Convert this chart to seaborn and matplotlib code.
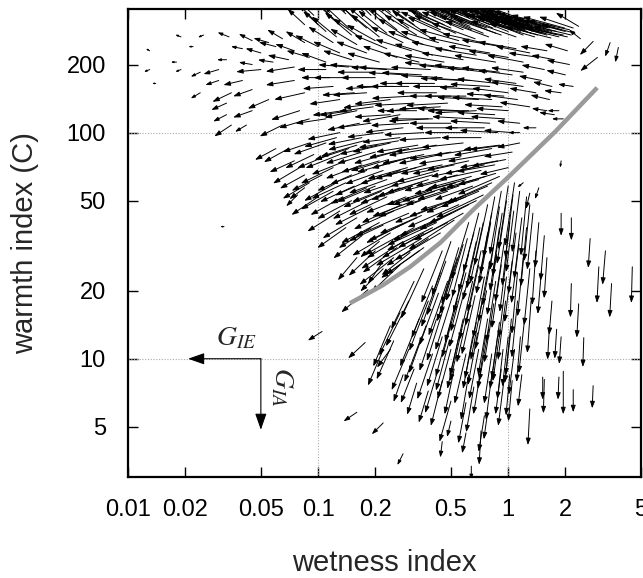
"""Wetness / warmth index gradient field with the G_IE and G_IA key arrows."""

import math

import seaborn as sns
from matplotlib import pyplot as plt
from matplotlib.patches import FancyArrowPatch

plt.switch_backend("Agg")

X_TICKS = [0.01, 0.02, 0.05, 0.1, 0.2, 0.5, 1, 2, 5]
X_LABELS = ["0.01", "0.02", "0.05", "0.1", "0.2", "0.5", "1", "2", "5"]
Y_TICKS = [5, 10, 20, 50, 100, 200]
Y_LABELS = ["5", "10", "20", "50", "100", "200"]
GRID_X = [0.1, 1]
GRID_Y = [10, 100]

# gray boundary curve
CURVE_WET = [0.147, 0.18, 0.22, 0.305, 0.44, 0.655, 1.03, 1.77, 2.94]
CURVE_WARM = [17.6, 19.3, 21.2, 25.5, 32.6, 45.6, 65, 101, 158]

# arrows: (wetness, warmth, g_ie, g_ia), gradients in decades
# g_ie > 0 points to lower wetness, g_ia > 0 points to lower warmth
TOP_BAND = [
    (0.085, 300, 0.09, -0.07), (0.095, 330, 0.10, -0.08), (0.11, 280, 0.12, -0.09),
    (0.12, 320, 0.12, -0.10), (0.13, 300, 0.13, -0.10), (0.14, 335, 0.12, -0.09),
    (0.15, 270, 0.14, -0.10), (0.16, 310, 0.13, -0.11), (0.18, 290, 0.14, -0.10),
    (0.19, 330, 0.12, -0.10), (0.21, 265, 0.15, -0.10), (0.22, 305, 0.14, -0.11),
    (0.24, 340, 0.12, -0.09), (0.26, 285, 0.15, -0.10), (0.28, 320, 0.15, -0.10),
    (0.30, 260, 0.16, -0.09), (0.32, 300, 0.17, -0.10), (0.35, 335, 0.16, -0.09),
    (0.37, 275, 0.18, -0.10), (0.10, 300, 0.10, -0.09), (0.115, 340, 0.10, -0.08),
    (0.125, 265, 0.13, -0.09), (0.145, 290, 0.13, -0.10), (0.17, 260, 0.15, -0.09),
    (0.175, 340, 0.12, -0.09), (0.20, 285, 0.14, -0.10), (0.23, 275, 0.15, -0.10),
    (0.25, 310, 0.15, -0.10), (0.27, 340, 0.14, -0.09), (0.30, 290, 0.16, -0.10),
    (0.33, 270, 0.17, -0.09), (0.38, 310, 0.18, -0.09), (0.40, 260, 0.19, -0.09),
    (0.42, 300, 0.20, -0.09), (0.45, 330, 0.19, -0.08), (0.48, 270, 0.21, -0.08),
    (0.50, 290, 0.22, -0.08), (0.52, 310, 0.21, -0.08), (0.55, 345, 0.18, -0.07),
    (0.58, 285, 0.22, -0.08), (0.60, 305, 0.22, -0.08), (0.62, 325, 0.21, -0.08),
    (0.66, 300, 0.22, -0.08), (0.68, 320, 0.22, -0.08), (0.70, 340, 0.20, -0.07),
    (0.72, 295, 0.23, -0.08), (0.74, 275, 0.23, -0.08), (0.78, 315, 0.22, -0.08),
    (0.80, 300, 0.23, -0.08), (0.83, 290, 0.23, -0.08), (0.86, 275, 0.24, -0.08),
    (0.88, 330, 0.21, -0.07), (0.90, 315, 0.22, -0.07), (0.93, 305, 0.23, -0.08),
    (0.97, 290, 0.24, -0.08), (1.00, 280, 0.24, -0.08), (1.05, 320, 0.22, -0.07),
    (1.08, 300, 0.23, -0.07), (1.12, 295, 0.24, -0.07), (1.16, 280, 0.24, -0.07),
    (1.20, 270, 0.24, -0.08), (1.24, 295, 0.23, -0.07), (1.28, 310, 0.23, -0.07),
    (1.32, 275, 0.24, -0.07), (1.36, 285, 0.24, -0.07), (1.40, 290, 0.24, -0.06),
    (1.45, 300, 0.24, -0.06), (1.50, 285, 0.25, -0.06), (1.55, 275, 0.25, -0.06),
    (1.60, 270, 0.25, -0.06), (1.65, 290, 0.24, -0.05), (1.70, 280, 0.25, -0.05),
    (1.80, 280, 0.25, -0.05), (1.85, 265, 0.24, -0.05), (1.95, 270, 0.24, -0.04),
    (2.00, 280, 0.23, -0.05), (2.10, 285, 0.22, -0.04), (2.25, 275, 0.18, -0.04),
    (2.35, 295, 0.12, -0.06), (2.40, 260, 0.06, -0.04), (0.44, 285, 0.21, -0.08),
    (0.47, 315, 0.20, -0.08), (0.53, 275, 0.22, -0.08), (0.57, 330, 0.20, -0.07),
    (0.64, 285, 0.22, -0.08), (0.67, 260, 0.23, -0.07), (0.76, 330, 0.21, -0.07),
    (0.79, 265, 0.23, -0.07), (0.84, 310, 0.22, -0.08), (0.92, 270, 0.24, -0.07),
    (0.95, 325, 0.21, -0.07), (1.02, 300, 0.23, -0.07), (1.10, 265, 0.24, -0.07),
    (1.14, 315, 0.22, -0.07), (1.22, 285, 0.24, -0.07), (1.30, 300, 0.23, -0.07),
    (1.38, 265, 0.24, -0.06), (1.48, 275, 0.25, -0.06), (1.58, 290, 0.24, -0.05),
    (1.68, 262, 0.24, -0.05), (1.75, 295, 0.23, -0.05), (1.90, 285, 0.24, -0.05),
    (2.05, 265, 0.22, -0.04), (2.20, 290, 0.18, -0.05),
    (0.46, 300, 0.21, -0.08), (0.54, 320, 0.20, -0.08), (0.63, 295, 0.22, -0.08),
    (0.71, 310, 0.22, -0.08), (0.77, 290, 0.23, -0.08), (0.85, 300, 0.23, -0.08),
    (0.99, 310, 0.22, -0.07), (1.06, 285, 0.24, -0.07), (1.18, 300, 0.23, -0.07),
    (1.26, 280, 0.24, -0.07), (1.34, 295, 0.24, -0.06), (1.43, 270, 0.25, -0.06),
    (1.53, 295, 0.24, -0.06), (1.63, 280, 0.25, -0.05), (1.78, 272, 0.24, -0.05),
    (1.98, 290, 0.22, -0.05), (2.15, 270, 0.20, -0.04),
]
TOP_RIGHT = [
    (2.80, 253, 0.07, 0.06), (2.95, 215, 0.09, 0.06),
    (3.44, 250, 0.026, 0.062), (3.80, 238, 0.016, 0.066),
]
UPPER_DRY = [
    (0.013, 230, 0.02, -0.01), (0.018, 205, 0.03, 0.0), (0.013, 190, 0.03, 0.01),
    (0.019, 190, 0.03, 0.01), (0.014, 165, 0.02, 0.0), (0.022, 240, 0.025, 0.0),
    (0.019, 265, 0.03, -0.01), (0.025, 270, 0.03, 0.01), (0.034, 265, 0.06, -0.02),
    (0.045, 255, 0.07, -0.03), (0.055, 250, 0.08, -0.02), (0.065, 260, 0.08, -0.04),
    (0.040, 235, 0.06, -0.01), (0.050, 225, 0.08, -0.02), (0.060, 240, 0.09, -0.02),
    (0.075, 230, 0.10, -0.03), (0.085, 250, 0.10, -0.05), (0.070, 210, 0.11, -0.02),
    (0.090, 215, 0.12, -0.03), (0.100, 240, 0.12, -0.05), (0.033, 210, 0.05, 0.0),
    (0.045, 200, 0.07, -0.01), (0.058, 205, 0.08, -0.01),
    (0.024, 185, 0.05, 0.02), (0.030, 190, 0.08, 0.02), (0.030, 170, 0.07, 0.02),
    (0.024, 150, 0.05, 0.025), (0.035, 150, 0.10, 0.04), (0.033, 135, 0.08, 0.03),
    (0.040, 170, 0.10, 0.02), (0.050, 190, 0.13, 0.01), (0.045, 155, 0.10, 0.03),
    (0.055, 140, 0.11, 0.04), (0.033, 120, 0.07, 0.03), (0.045, 125, 0.10, 0.03),
    (0.042, 108, 0.06, 0.03), (0.035, 108, 0.09, 0.05), (0.075, 195, 0.15, 0.02),
    (0.075, 170, 0.15, 0.02), (0.085, 150, 0.16, 0.03), (0.080, 125, 0.15, 0.04),
    (0.090, 115, 0.16, 0.04), (0.065, 108, 0.12, 0.05),
    (0.060, 85, 0.11, 0.05), (0.070, 85, 0.13, 0.06), (0.075, 75, 0.13, 0.05),
    (0.080, 70, 0.14, 0.07), (0.085, 65, 0.13, 0.06), (0.090, 90, 0.14, 0.04),
    (0.090, 60, 0.14, 0.07), (0.095, 80, 0.15, 0.06), (0.100, 52, 0.14, 0.08),
    (0.078, 53, 0.06, 0.05), (0.085, 57, 0.08, 0.05), (0.032, 38.4, 0.02, 0.0),
]
UPPER_MID = [
    (0.11, 205, 0.13, -0.04), (0.12, 250, 0.13, -0.07), (0.13, 225, 0.14, -0.05),
    (0.15, 210, 0.15, -0.04), (0.16, 245, 0.14, -0.07), (0.18, 225, 0.16, -0.05),
    (0.20, 255, 0.15, -0.07), (0.21, 205, 0.17, -0.04), (0.23, 235, 0.17, -0.06),
    (0.26, 215, 0.18, -0.05), (0.28, 250, 0.17, -0.07), (0.31, 230, 0.19, -0.05),
    (0.34, 205, 0.19, -0.04), (0.36, 245, 0.19, -0.06), (0.40, 220, 0.20, -0.05),
    (0.43, 250, 0.20, -0.05), (0.46, 205, 0.21, -0.03), (0.50, 230, 0.21, -0.04),
    (0.55, 255, 0.21, -0.05), (0.58, 210, 0.22, -0.03), (0.63, 240, 0.22, -0.04),
    (0.68, 220, 0.22, -0.03), (0.73, 250, 0.21, -0.04), (0.80, 225, 0.22, -0.03),
    (0.86, 205, 0.22, -0.03), (0.92, 240, 0.21, -0.03), (1.00, 215, 0.21, -0.03),
    (1.10, 235, 0.20, -0.03), (1.20, 205, 0.19, -0.03), (1.30, 225, 0.18, -0.03),
    (1.45, 215, 0.16, -0.02), (1.60, 230, 0.14, -0.02), (1.75, 210, 0.12, -0.02),
    (2.10, 200, 0.12, -0.02), (2.00, 180, 0.10, -0.02), (1.90, 150, 0.09, -0.01),
    (1.85, 125, 0.06, 0.0), (1.55, 190, 0.12, -0.02), (1.70, 160, 0.10, -0.02),
    (2.05, 230, 0.12, -0.03), (1.95, 115, 0.06, 0.0), (2.20, 160, 0.08, -0.01),
    (1.60, 125, 0.08, -0.01),
    (0.11, 190, 0.15, 0.0), (0.12, 160, 0.16, 0.01), (0.13, 140, 0.16, 0.02),
    (0.14, 175, 0.17, 0.0), (0.16, 125, 0.17, 0.03), (0.17, 195, 0.17, -0.01),
    (0.18, 150, 0.18, 0.01), (0.20, 175, 0.18, 0.0), (0.21, 135, 0.19, 0.02),
    (0.23, 190, 0.19, -0.01), (0.25, 160, 0.20, 0.0), (0.27, 120, 0.20, 0.03),
    (0.29, 180, 0.20, -0.01), (0.31, 145, 0.21, 0.01), (0.34, 165, 0.21, 0.0),
    (0.37, 130, 0.21, 0.02), (0.39, 190, 0.21, -0.01),
    (0.42, 150, 0.21, 0.0), (0.45, 175, 0.22, -0.01), (0.48, 135, 0.22, 0.01),
    (0.52, 160, 0.22, 0.0), (0.56, 190, 0.22, -0.02), (0.60, 145, 0.22, 0.0),
    (0.64, 170, 0.22, -0.01), (0.68, 125, 0.22, 0.01), (0.72, 155, 0.22, -0.01),
    (0.77, 185, 0.21, -0.02), (0.82, 140, 0.21, -0.01), (0.87, 165, 0.21, -0.02),
    (0.93, 130, 0.20, -0.01), (1.00, 150, 0.19, -0.02), (1.05, 180, 0.18, -0.02),
    (1.12, 140, 0.18, -0.02), (1.20, 160, 0.17, -0.02), (1.30, 130, 0.16, -0.02),
    (1.40, 150, 0.14, -0.02), (1.50, 170, 0.12, -0.02), (1.65, 140, 0.10, -0.02),
    (1.75, 120, 0.08, -0.01),
    (0.115, 175, 0.15, 0.0), (0.135, 125, 0.16, 0.02), (0.145, 195, 0.16, -0.01),
    (0.155, 150, 0.17, 0.01), (0.165, 110, 0.17, 0.03), (0.19, 185, 0.18, 0.0),
    (0.195, 130, 0.18, 0.02), (0.215, 160, 0.19, 0.01), (0.24, 140, 0.19, 0.02),
    (0.26, 190, 0.20, -0.01), (0.28, 105, 0.20, 0.02), (0.30, 160, 0.20, 0.0),
    (0.32, 135, 0.21, 0.01), (0.35, 180, 0.21, -0.01), (0.38, 115, 0.21, 0.01),
    (0.41, 165, 0.21, 0.0), (0.44, 130, 0.22, 0.01), (0.47, 195, 0.22, -0.02),
    (0.50, 145, 0.22, 0.0), (0.54, 105, 0.22, 0.0), (0.57, 170, 0.22, -0.01),
    (0.62, 125, 0.22, 0.0), (0.66, 190, 0.21, -0.02), (0.70, 140, 0.22, -0.01),
    (0.75, 105, 0.21, 0.0), (0.80, 160, 0.21, -0.01), (0.85, 120, 0.20, -0.01),
    (0.90, 185, 0.20, -0.02), (0.95, 145, 0.20, -0.01), (1.00, 125, 0.17, -0.01),
    (1.10, 165, 0.17, -0.02), (1.20, 185, 0.17, -0.02),
]
MIDDLE = [
    (0.11, 115, 0.16, 0.02), (0.13, 100, 0.17, 0.03), (0.15, 125, 0.17, 0.02),
    (0.17, 95, 0.18, 0.03), (0.19, 110, 0.18, 0.02), (0.22, 100, 0.19, 0.02),
    (0.24, 120, 0.19, 0.01), (0.27, 95, 0.20, 0.02), (0.30, 110, 0.20, 0.01),
    (0.33, 125, 0.21, 0.0), (0.36, 100, 0.21, 0.01), (0.40, 115, 0.22, 0.0),
    (0.44, 95, 0.22, 0.01), (0.50, 110, 0.22, 0.0), (0.55, 125, 0.22, -0.01),
    (0.60, 100, 0.22, 0.0), (0.66, 115, 0.22, -0.01), (0.72, 95, 0.21, 0.0),
    (0.80, 110, 0.21, -0.01), (0.88, 100, 0.20, -0.01), (0.96, 115, 0.18, -0.01),
    (1.05, 100, 0.15, -0.01), (1.15, 100, 0.06, 0.0), (1.40, 105, 0.07, 0.0),
    (1.15, 110, 0.12, -0.01),
    (0.11, 90, 0.17, 0.05), (0.12, 70, 0.17, 0.07), (0.13, 80, 0.18, 0.06),
    (0.14, 60, 0.18, 0.07), (0.16, 88, 0.19, 0.05), (0.17, 72, 0.19, 0.06),
    (0.19, 62, 0.19, 0.07), (0.20, 82, 0.20, 0.05), (0.22, 68, 0.20, 0.06),
    (0.24, 90, 0.20, 0.04), (0.26, 75, 0.21, 0.05), (0.28, 62, 0.21, 0.06),
    (0.30, 85, 0.21, 0.04), (0.33, 70, 0.22, 0.05), (0.36, 80, 0.22, 0.04),
    (0.38, 62, 0.22, 0.06), (0.42, 88, 0.22, 0.03), (0.45, 72, 0.22, 0.04),
    (0.50, 82, 0.22, 0.03), (0.54, 65, 0.22, 0.05), (0.58, 90, 0.22, 0.02),
    (0.62, 75, 0.22, 0.04), (0.68, 85, 0.22, 0.03), (0.72, 68, 0.22, 0.04),
    (0.78, 80, 0.21, 0.03), (0.85, 72, 0.20, 0.03), (0.90, 88, 0.19, 0.02),
    (0.97, 76, 0.18, 0.03), (1.05, 82, 0.15, 0.02), (1.15, 90, 0.12, 0.02),
    (0.105, 65, 0.16, 0.07), (0.115, 80, 0.17, 0.06), (0.125, 60, 0.17, 0.08),
    (0.14, 75, 0.18, 0.06), (0.15, 65, 0.18, 0.07), (0.17, 82, 0.19, 0.05),
    (0.18, 68, 0.19, 0.06), (0.20, 58, 0.20, 0.07), (0.21, 75, 0.20, 0.05),
    (0.23, 62, 0.20, 0.06), (0.25, 82, 0.21, 0.05), (0.27, 68, 0.21, 0.06),
    (0.29, 52, 0.21, 0.07), (0.31, 78, 0.21, 0.05), (0.34, 60, 0.22, 0.06),
    (0.37, 72, 0.22, 0.05), (0.40, 65, 0.22, 0.05), (0.44, 80, 0.22, 0.04),
    (0.47, 62, 0.22, 0.05), (0.52, 72, 0.22, 0.04), (0.56, 78, 0.22, 0.03),
    (0.60, 62, 0.22, 0.05), (0.65, 70, 0.22, 0.04), (0.75, 72, 0.21, 0.04),
    (0.82, 85, 0.20, 0.03), (0.88, 75, 0.20, 0.03), (0.95, 88, 0.18, 0.02),
    (1.00, 70, 0.15, 0.03),
    (0.125, 95, 0.17, 0.04), (0.135, 52, 0.17, 0.08), (0.145, 85, 0.18, 0.05),
    (0.155, 58, 0.18, 0.07), (0.175, 92, 0.19, 0.04), (0.185, 50, 0.19, 0.08),
    (0.205, 88, 0.20, 0.04), (0.215, 55, 0.20, 0.07), (0.235, 76, 0.20, 0.05),
    (0.245, 58, 0.21, 0.07), (0.265, 92, 0.21, 0.03), (0.275, 48, 0.21, 0.08),
    (0.295, 70, 0.21, 0.05), (0.315, 58, 0.22, 0.06), (0.335, 88, 0.22, 0.03),
    (0.345, 50, 0.22, 0.07), (0.39, 85, 0.22, 0.03), (0.41, 55, 0.22, 0.06),
    (0.43, 68, 0.22, 0.05), (0.48, 55, 0.22, 0.06), (0.53, 60, 0.22, 0.05),
    (0.57, 52, 0.22, 0.06), (0.64, 64, 0.22, 0.05), (0.70, 62, 0.21, 0.05),
    (0.76, 64, 0.21, 0.05), (0.86, 66, 0.20, 0.05),
]
ABOVE_CURVE = [
    (0.12, 55, 0.17, 0.08), (0.13, 45, 0.17, 0.09), (0.15, 50, 0.18, 0.08),
    (0.16, 42, 0.18, 0.09), (0.18, 57, 0.19, 0.07), (0.19, 47, 0.19, 0.08),
    (0.21, 40, 0.20, 0.09), (0.23, 52, 0.20, 0.08), (0.25, 45, 0.21, 0.08),
    (0.27, 57, 0.21, 0.07), (0.29, 40, 0.21, 0.09), (0.32, 50, 0.22, 0.07),
    (0.35, 43, 0.22, 0.08), (0.38, 55, 0.22, 0.06), (0.42, 47, 0.22, 0.07),
    (0.46, 57, 0.22, 0.06), (0.50, 50, 0.22, 0.07), (0.55, 58, 0.22, 0.06),
    (0.60, 52, 0.21, 0.07), (0.65, 58, 0.20, 0.06), (0.70, 55, 0.20, 0.07),
    (0.78, 58, 0.20, 0.07),
    (0.30, 44, 0.28, 0.10), (0.32, 38, 0.26, 0.12), (0.28, 33, 0.22, 0.12),
    (0.35, 34, 0.24, 0.12), (0.25, 28, 0.18, 0.12), (0.40, 38, 0.24, 0.10),
    (0.36, 31, 0.20, 0.12), (0.22, 25, 0.12, 0.10), (0.183, 20.2, 0.14, 0.10),
    (0.305, 29.5, 0.15, 0.10), (0.45, 42, 0.26, 0.10), (0.50, 44, 0.27, 0.10),
    (0.55, 48, 0.27, 0.10), (0.36, 36, 0.22, 0.11), (0.42, 40, 0.26, 0.10),
    (0.33, 42, 0.25, 0.10), (0.22, 39, 0.18, 0.07), (0.21, 33, 0.10, 0.07),
    (0.22, 27, 0.08, 0.10),
    (0.14, 38, 0.15, 0.09), (0.17, 35, 0.15, 0.10), (0.20, 30, 0.14, 0.11),
    (0.19, 38, 0.17, 0.09), (0.24, 36, 0.20, 0.10), (0.26, 31, 0.18, 0.11),
    (0.30, 36, 0.22, 0.11), (0.34, 30, 0.20, 0.12), (0.38, 34, 0.22, 0.12),
    (0.44, 36, 0.24, 0.12), (0.48, 40, 0.26, 0.11), (0.52, 41, 0.24, 0.13),
    (0.58, 44, 0.26, 0.12), (0.62, 48, 0.26, 0.11), (0.68, 50, 0.25, 0.10),
    (0.74, 53, 0.25, 0.10), (0.82, 60, 0.24, 0.09), (0.90, 64, 0.22, 0.08),
    (0.27, 26, 0.15, 0.12), (0.16, 28, 0.10, 0.10),
]
BELOW_CURVE = [
    (0.62, 40, 0.09, 0.25), (0.70, 44, 0.08, 0.26), (0.78, 48, 0.07, 0.27),
    (0.85, 52, 0.06, 0.27), (0.92, 55, 0.06, 0.28), (1.00, 58, 0.05, 0.28),
    (1.08, 60, 0.05, 0.28), (0.66, 36, 0.08, 0.26), (0.74, 40, 0.07, 0.27),
    (0.82, 44, 0.06, 0.27), (0.90, 47, 0.05, 0.28), (0.98, 50, 0.05, 0.28),
    (1.06, 53, 0.04, 0.28), (1.15, 55, 0.04, 0.27), (1.25, 52, 0.03, 0.26),
    (0.45, 30, 0.11, 0.23), (0.50, 33, 0.10, 0.24), (0.54, 28, 0.09, 0.25),
    (0.58, 32, 0.09, 0.25), (0.62, 29, 0.08, 0.26), (0.68, 33, 0.07, 0.26),
    (0.72, 30, 0.07, 0.27), (0.78, 36, 0.06, 0.27), (0.84, 32, 0.06, 0.27),
    (0.90, 38, 0.05, 0.28), (0.96, 34, 0.05, 0.28), (1.02, 40, 0.04, 0.28),
    (1.10, 36, 0.04, 0.27), (1.18, 42, 0.04, 0.27), (1.25, 38, 0.03, 0.26),
    (1.35, 44, 0.03, 0.25), (1.30, 48, 0.03, 0.25),
    (0.32, 22, 0.12, 0.21), (0.36, 25, 0.12, 0.22), (0.40, 21, 0.11, 0.23),
    (0.44, 24, 0.10, 0.24), (0.48, 22, 0.10, 0.24), (0.52, 26, 0.09, 0.25),
    (0.56, 21, 0.08, 0.25), (0.60, 24, 0.08, 0.26), (0.65, 22, 0.07, 0.26),
    (0.70, 26, 0.07, 0.27), (0.75, 23, 0.06, 0.27), (0.80, 27, 0.06, 0.27),
    (0.86, 22, 0.05, 0.27), (0.92, 26, 0.05, 0.28), (0.98, 23, 0.04, 0.27),
    (1.05, 27, 0.04, 0.27), (1.12, 24, 0.03, 0.27), (1.20, 28, 0.03, 0.26),
    (1.30, 25, 0.03, 0.25), (1.40, 30, 0.02, 0.24),
    (0.27, 16, 0.11, 0.19), (0.30, 18, 0.12, 0.20), (0.34, 15, 0.10, 0.21),
    (0.38, 18, 0.10, 0.22), (0.42, 15, 0.09, 0.23), (0.46, 17, 0.09, 0.24),
    (0.50, 14.5, 0.08, 0.24), (0.54, 18, 0.08, 0.25), (0.58, 15, 0.07, 0.25),
    (0.63, 17.5, 0.07, 0.26), (0.68, 14.5, 0.06, 0.25), (0.73, 18, 0.06, 0.26),
    (0.78, 15, 0.05, 0.25), (0.84, 17.5, 0.05, 0.26), (0.90, 14.5, 0.04, 0.25),
    (0.97, 18, 0.04, 0.26), (1.04, 15, 0.03, 0.25), (1.12, 18, 0.03, 0.25),
    (1.22, 15, 0.03, 0.24), (1.32, 18, 0.02, 0.23),
    (0.25, 12, 0.09, 0.17), (0.30, 11, 0.09, 0.18), (0.35, 12.5, 0.09, 0.20),
    (0.40, 10.5, 0.08, 0.20), (0.45, 12.5, 0.08, 0.22), (0.50, 11, 0.07, 0.22),
    (0.55, 12.5, 0.06, 0.23), (0.60, 10.5, 0.06, 0.22), (0.65, 12.5, 0.05, 0.23),
    (0.70, 11, 0.05, 0.22), (0.76, 12.5, 0.04, 0.23), (0.82, 10.5, 0.04, 0.22),
    (0.88, 12.5, 0.04, 0.23), (0.94, 11, 0.03, 0.22), (1.00, 12.5, 0.03, 0.22),
    (1.08, 11, 0.03, 0.20), (1.16, 12.5, 0.02, 0.20),
    (0.32, 9, 0.07, 0.15), (0.42, 8.5, 0.06, 0.17), (0.52, 9, 0.05, 0.20),
    (0.62, 8.5, 0.04, 0.20), (0.72, 9, 0.04, 0.20), (0.82, 8.5, 0.03, 0.20),
    (0.92, 9, 0.03, 0.20), (1.02, 8.5, 0.02, 0.18),
    (0.24, 14, 0.09, 0.18), (0.22, 11, 0.08, 0.16),
    (0.47, 27, 0.10, 0.24), (0.51, 19, 0.09, 0.24), (0.55, 31, 0.09, 0.25),
    (0.59, 20, 0.08, 0.25), (0.61, 34, 0.08, 0.26), (0.67, 19, 0.07, 0.26),
    (0.71, 38, 0.07, 0.27), (0.77, 20, 0.06, 0.26), (0.81, 40, 0.06, 0.27),
    (0.87, 29, 0.05, 0.27), (0.93, 44, 0.05, 0.28), (0.99, 30, 0.04, 0.27),
    (1.07, 45, 0.04, 0.27), (1.14, 32, 0.04, 0.26), (0.49, 12, 0.07, 0.22),
    (0.57, 13.5, 0.06, 0.23), (0.69, 13, 0.05, 0.23), (0.79, 13.5, 0.05, 0.23),
    (0.91, 13.5, 0.04, 0.23), (1.03, 13, 0.03, 0.22), (0.43, 19.5, 0.10, 0.23),
    (0.37, 14, 0.09, 0.21),
]
COLD_SPARSE = [
    (0.28, 8.5, 0.05, 0.12), (0.33, 7.8, 0.05, 0.14), (0.38, 7.2, 0.05, 0.14),
    (0.45, 8.0, 0.06, 0.20), (0.50, 6.5, 0.06, 0.18), (0.60, 6.4, 0.04, 0.18),
    (0.66, 7.5, 0.04, 0.20), (0.75, 5.6, 0.03, 0.16), (0.72, 4.8, 0.01, 0.15),
    (0.78, 5.8, 0.02, 0.12), (0.95, 8.0, 0.03, 0.20), (1.05, 8.0, 0.02, 0.18),
    (1.18, 8.5, 0.02, 0.14), (1.30, 6.0, 0.01, 0.16), (1.52, 8.3, 0.0, 0.10),
    (1.55, 8.1, 0.005, 0.15), (1.85, 8.3, 0.005, 0.10), (1.95, 8.8, 0.0, 0.19),
    (2.20, 7.3, 0.0, 0.10), (2.80, 7.6, 0.005, 0.10), (0.45, 4.3, 0.01, 0.07),
    (0.28, 3.8, 0.03, 0.05), (0.50, 5.3, 0.02, 0.07), (0.60, 4.7, 0.02, 0.09),
    (0.64, 3.35, 0.0, 0.06),
    (0.16, 5.8, 0.07, 0.04), (0.22, 5.2, 0.06, 0.05), (0.105, 13.2, 0.075, 0.04),
    (0.177, 11.8, 0.09, 0.07), (0.24, 11, 0.07, 0.08),
]
WET_SPARSE = [
    (1.90, 44, 0.0, 0.10), (2.15, 42, 0.0, 0.10), (2.70, 34, 0.01, 0.13),
    (3.00, 25.5, 0.01, 0.16), (3.25, 30, 0.015, 0.15), (3.50, 21.5, 0.01, 0.15),
    (4.50, 25.5, 0.005, 0.16), (2.15, 21.5, 0.005, 0.15), (2.35, 17.5, 0.01, 0.15),
    (1.70, 18, 0.015, 0.15), (2.50, 12.4, 0.005, 0.13), (1.45, 40, 0.02, 0.20),
    (1.55, 35, 0.02, 0.20), (1.60, 28, 0.015, 0.18), (1.50, 25, 0.02, 0.20),
    (1.65, 14, 0.01, 0.15), (1.80, 13.5, 0.01, 0.13), (1.90, 12.5, 0.01, 0.12),
    (1.45, 57, 0.02, 0.05), (1.30, 54, 0.02, 0.07), (1.20, 60, 0.03, 0.02),
    (1.90, 75, 0.005, 0.03),
]

# key arrows from the point (0.05, 10)
KEY_ORIGIN = (0.05, 10)
KEY_IE_END = 0.0207
KEY_IA_END = 4.85

FIELD_STYLE = "-|>,head_length=0.4,head_width=0.14"
KEY_STYLE = "-|>,head_length=1.0,head_width=0.35"


def draw_arrows(ax, rows):
    for wet, warm, g_ie, g_ia in rows:
        head = (wet * 10 ** (-g_ie), warm * 10 ** (-g_ia))
        # short arrows get a smaller head so they read as dashes
        size_px = math.hypot(190 * g_ie, 226 * g_ia)
        ax.add_patch(
            FancyArrowPatch(
                (wet, warm), head, arrowstyle=FIELD_STYLE,
                mutation_scale=min(10, 0.55 * size_px),
                lw=0.7, color="black", shrinkA=0, shrinkB=0, zorder=2,
            )
        )


def main():
    sns.set_theme(style="ticks")
    plt.rcParams["font.family"] = ["Liberation Sans", "DejaVu Sans"]
    plt.rcParams["mathtext.fontset"] = "stix"

    fig = plt.figure(figsize=(6.43, 5.78), dpi=100)
    ax = fig.add_axes([128 / 643, 101 / 578, 513 / 643, 468 / 578])
    ax.set_xscale("log")
    ax.set_yscale("log")

    for group in (TOP_BAND, TOP_RIGHT, UPPER_DRY, UPPER_MID, MIDDLE,
                  ABOVE_CURVE, BELOW_CURVE, COLD_SPARSE, WET_SPARSE):
        draw_arrows(ax, group)

    sns.lineplot(x=CURVE_WET, y=CURVE_WARM, color="#9a9a9a", lw=3.2,
                 sort=False, ax=ax, zorder=3, solid_capstyle="butt")

    for gx in GRID_X:
        ax.axvline(gx, color="#aaaaaa", ls=(0, (1, 1.5)), lw=0.8, zorder=1)
    for gy in GRID_Y:
        ax.axhline(gy, color="#aaaaaa", ls=(0, (1, 1.5)), lw=0.8, zorder=1)

    # key
    for end in [(KEY_IE_END, KEY_ORIGIN[1]), (KEY_ORIGIN[0], KEY_IA_END)]:
        ax.add_patch(FancyArrowPatch(KEY_ORIGIN, end, arrowstyle=KEY_STYLE,
                                     mutation_scale=10, lw=0.8, color="black",
                                     shrinkA=0, shrinkB=0, zorder=4))
    ax.text(0.029, 11.5, r"$G_{IE}$", fontsize=20, ha="left", va="baseline")
    ax.text(0.064, 7.5, r"$G_{IA}$", fontsize=20, ha="center", va="center",
            rotation=-90)

    ax.set_xlim(0.01, 5)
    ax.set_ylim(3, 352)
    ax.set_xticks(X_TICKS, X_LABELS)
    ax.set_yticks(Y_TICKS, Y_LABELS)
    ax.minorticks_off()
    ax.tick_params(direction="in", length=7, width=1, top=True, right=True,
                   labelsize=17, pad=16, color="black", labelcolor="black")
    for spine in ax.spines.values():
        spine.set_linewidth(1.6)
        spine.set_color("black")

    ax.set_xlabel("wetness index", fontsize=21, labelpad=20)
    ax.set_ylabel("warmth index (C)", fontsize=21, labelpad=20)

    fig.savefig("out.png", dpi=100)
    plt.close(fig)


if __name__ == "__main__":
    main()
